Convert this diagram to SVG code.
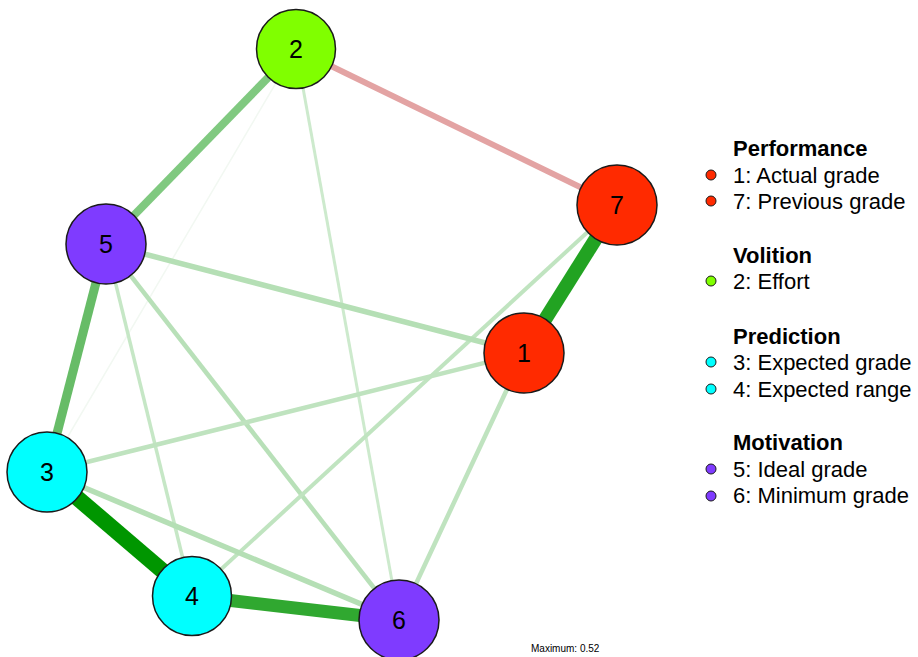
<svg xmlns="http://www.w3.org/2000/svg" width="918" height="657" viewBox="0 0 918 657">
<style>
.e{fill:none;stroke-linecap:butt}
.n{stroke:#1a1a1a;stroke-width:1.5}
.nl{font-family:"Liberation Sans",Arial,sans-serif;font-size:25px;text-anchor:middle;fill:#000}
.lh{font-family:"Liberation Sans",Arial,sans-serif;font-size:22px;font-weight:bold;fill:#000}
.li{font-family:"Liberation Sans",Arial,sans-serif;font-size:22px;fill:#000}
.ld{stroke:#1a1a1a;stroke-width:1}
.red{fill:#ff2a00}.lime{fill:#80ff00}.cyan{fill:#00ffff}.purple{fill:#7f3bff}
</style>
<rect width="918" height="657" fill="#fff"/>
<g id="connectors">
<line class="e" x1="296" y1="49" x2="47" y2="472" stroke="#f2f8f2" stroke-width="1.5"/>
<line class="e" x1="296" y1="49" x2="399" y2="620" stroke="#cdeacd" stroke-width="3"/>
<line class="e" x1="106" y1="244" x2="192" y2="596" stroke="#c6e7c6" stroke-width="3.5"/>
<line class="e" x1="106" y1="244" x2="399" y2="620" stroke="#b8e0b8" stroke-width="4.5"/>
<line class="e" x1="617" y1="205" x2="192" y2="596" stroke="#c0e4c0" stroke-width="4"/>
<line class="e" x1="524" y1="353" x2="47" y2="472" stroke="#bfe3bf" stroke-width="4.5"/>
<line class="e" x1="524" y1="353" x2="399" y2="620" stroke="#bfe3bf" stroke-width="4.5"/>
<line class="e" x1="47" y1="472" x2="399" y2="620" stroke="#b5dfb5" stroke-width="5.5"/>
<line class="e" x1="106" y1="244" x2="524" y2="353" stroke="#b5dfb5" stroke-width="5.5"/>
<line class="e" x1="296" y1="49" x2="617" y2="205" stroke="#e3a3a3" stroke-width="6"/>
<line class="e" x1="296" y1="49" x2="106" y2="244" stroke="#80c980" stroke-width="8"/>
<line class="e" x1="106" y1="244" x2="47" y2="472" stroke="#67bc67" stroke-width="9"/>
<line class="e" x1="617" y1="205" x2="524" y2="353" stroke="#22a322" stroke-width="14"/>
<line class="e" x1="192" y1="596" x2="399" y2="620" stroke="#30a830" stroke-width="13"/>
<line class="e" x1="47" y1="472" x2="192" y2="596" stroke="#009600" stroke-width="16"/>
</g>
<g id="node2"><circle class="n lime" cx="296" cy="49" r="39.5"/><text class="nl" x="296" y="58">2</text></g>
<g id="node7"><circle class="n red" cx="617" cy="205" r="40"/><text class="nl" x="617" y="214">7</text></g>
<g id="node5"><circle class="n purple" cx="106" cy="244" r="40"/><text class="nl" x="106" y="253">5</text></g>
<g id="node1"><circle class="n red" cx="524" cy="353" r="40"/><text class="nl" x="524" y="362">1</text></g>
<g id="node3"><circle class="n cyan" cx="47" cy="472" r="40"/><text class="nl" x="47" y="481">3</text></g>
<g id="node4"><circle class="n cyan" cx="192" cy="596" r="39.5"/><text class="nl" x="192" y="605">4</text></g>
<g id="node6"><circle class="n purple" cx="399" cy="620" r="40"/><text class="nl" x="399" y="629">6</text></g>
<g id="legend">
<text class="lh" x="733" y="156">Performance</text>
<circle class="ld red" cx="711" cy="175" r="5"/><text class="li" x="733" y="183">1: Actual grade</text>
<circle class="ld red" cx="711" cy="201" r="5"/><text class="li" x="733" y="209">7: Previous grade</text>
<text class="lh" x="733" y="263">Volition</text>
<circle class="ld lime" cx="711" cy="281" r="5"/><text class="li" x="733" y="289">2: Effort</text>
<text class="lh" x="733" y="344">Prediction</text>
<circle class="ld cyan" cx="711" cy="362" r="5"/><text class="li" x="733" y="370">3: Expected grade</text>
<circle class="ld cyan" cx="711" cy="389" r="5"/><text class="li" x="733" y="397">4: Expected range</text>
<text class="lh" x="733" y="450">Motivation</text>
<circle class="ld purple" cx="711" cy="469" r="5"/><text class="li" x="733" y="477">5: Ideal grade</text>
<circle class="ld purple" cx="711" cy="496" r="5"/><text class="li" x="733" y="503">6: Minimum grade</text>
</g>
<text x="531" y="652" font-family="'Liberation Sans',Arial,sans-serif" font-size="10" fill="#000">Maximum: 0.52</text>
</svg>
